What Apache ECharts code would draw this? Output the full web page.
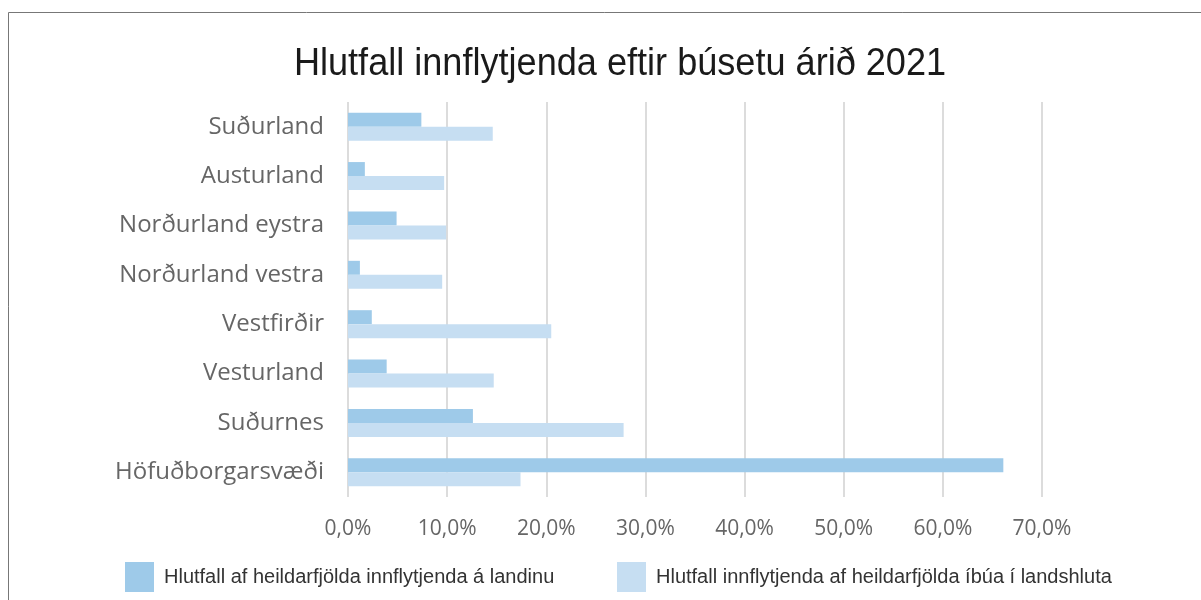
<!DOCTYPE html>
<html>
<head>
<meta charset="utf-8">
<script src="https://cdn.jsdelivr.net/npm/echarts@6/dist/echarts.min.js"></script>
<style>
  html, body { margin: 0; padding: 0; background: #fff; }
  #chart { width: 1201px; height: 600px; }
</style>
</head>
<body>
<div id="chart"></div>
<script>
// landshlutar, ofan frá og niður
const regions = ['Suðurland', 'Austurland', 'Norðurland eystra', 'Norðurland vestra', 'Vestfirðir', 'Vesturland', 'Suðurnes', 'Höfuðborgarsvæði'];
// hlutfall af heildarfjölda innflytjenda á landinu (%)
const shareOfCountry = [7.4, 1.7, 4.9, 1.2, 2.4, 3.9, 12.6, 66.1];
// hlutfall innflytjenda af heildarfjölda íbúa í landshluta (%)
const shareOfRegion = [14.6, 9.7, 9.9, 9.5, 20.5, 14.7, 27.8, 17.4];

const seriesNames = ['Hlutfall af heildarfjölda innflytjenda á landinu', 'Hlutfall innflytjenda af heildarfjölda íbúa í landshluta'];
const colors = ['#9ecae9', '#c6def2'];
const titleText = 'Hlutfall innflytjenda eftir búsetu árið 2021';

const chart = echarts.init(document.getElementById('chart'));

const legendText = { fontFamily: 'Liberation Sans', fontSize: 20, color: '#333', padding: [0, 0, 0, 5] };

chart.setOption({
  animation: false,
  backgroundColor: '#fff',
  graphic: [
    { type: 'polyline', shape: { points: [[8.5, 600], [8.5, 12.5], [1201, 12.5]] }, style: { stroke: '#777', lineWidth: 1, fill: null } },
    // titill, örlítið þjappaður eins og í frumriti
    {
      type: 'text', x: 620, y: 65, scaleX: 0.95,
      style: { text: titleText, align: 'center', verticalAlign: 'middle', font: '38px "Liberation Sans"', fill: '#1a1a1a' }
    }
  ],
  legend: [
    { data: [seriesNames[0]], left: 120, top: 557, icon: 'rect', itemWidth: 29, itemHeight: 30, textStyle: legendText },
    { data: [seriesNames[1]], left: 612, top: 557, icon: 'rect', itemWidth: 29, itemHeight: 30, textStyle: legendText }
  ],
  grid: { left: 348, right: 159, top: 102, bottom: 103, containLabel: false },
  xAxis: {
    type: 'value',
    min: 0,
    max: 70,
    interval: 10,
    axisLine: { show: false },
    axisTick: { show: false },
    splitLine: { lineStyle: { color: '#dcdcdc', width: 2 } },
    axisLabel: {
      margin: 22,
      fontFamily: 'Open Sans',
      fontSize: 21,
      color: '#666',
      formatter: v => v.toFixed(1).replace('.', ',') + '%'
    }
  },
  yAxis: {
    type: 'category',
    data: regions,
    inverse: true,
    axisLine: { show: false },
    axisTick: { show: false },
    axisLabel: { margin: 24, fontFamily: 'Open Sans', fontSize: 24, color: '#666' }
  },
  series: [
    { name: seriesNames[0], type: 'bar', data: shareOfCountry, itemStyle: { color: colors[0] }, barWidth: 14, barGap: '0%' },
    { name: seriesNames[1], type: 'bar', data: shareOfRegion, itemStyle: { color: colors[1] }, barWidth: 14, barGap: '0%' }
  ]
});
</script>
</body>
</html>
